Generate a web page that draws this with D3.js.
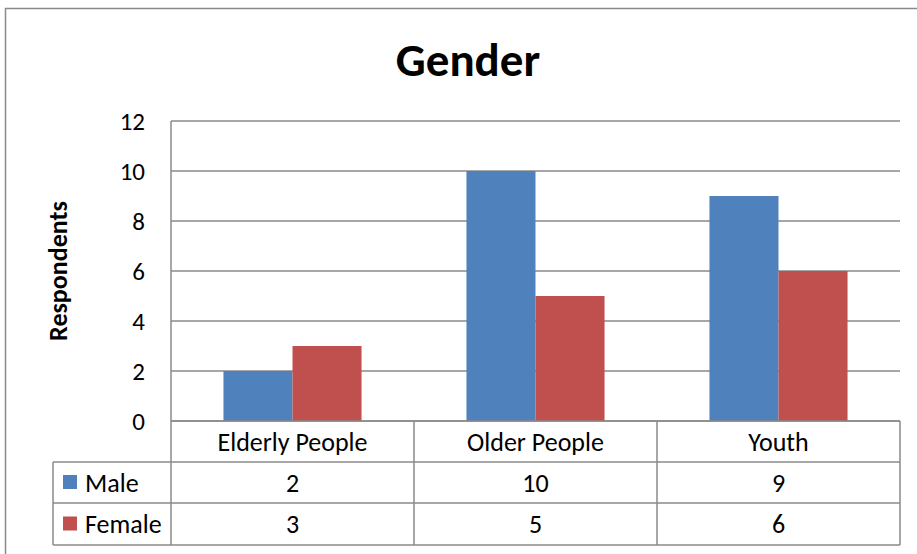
<!DOCTYPE html>
<html>
<head>
<meta charset="utf-8">
<script src="https://cdn.jsdelivr.net/npm/d3@7"></script>
<style>
  html, body { margin: 0; padding: 0; background: #fff; }
  svg { display: block; font-family: Carlito, Calibri, Lato, "Open Sans", sans-serif; }
</style>
</head>
<body>
<svg id="chart" width="917" height="554"></svg>
<script>
// Respondent counts by age group and gender
const categories = ["Elderly People", "Older People", "Youth"];
const seriesNames = ["Male", "Female"];
const maleValues = [2, 10, 9];
const femaleValues = [3, 5, 6];
const yTicks = [0, 2, 4, 6, 8, 10, 12];
const colors = ["#4F81BD", "#C0504D"];

const seriesValues = [maleValues, femaleValues];

const svg = d3.select("#chart");
const W = 917, H = 554;

svg.append("rect").attr("width", W).attr("height", H).attr("fill", "#fff");

// outer chart frame
svg.append("rect")
  .attr("x", 5.5).attr("y", 8.5)
  .attr("width", 1000).attr("height", 700)
  .attr("fill", "none").attr("stroke", "#8a8a8a").attr("stroke-width", 1.5);

const plot = { left: 171, right: 900, top: 121, bottom: 421 };
const rowH = [41, 41, 42];     // header row, Male row, Female row
const tableLeft = 53;
const labelSize = 26;

const x = d3.scaleBand().domain(categories).range([plot.left, plot.right]).padding(0);
const xs = d3.scaleBand().domain(seriesNames).range([0, x.bandwidth()])
  .paddingInner(0).paddingOuter(0.76);
const y = d3.scaleLinear().domain([0, 12]).range([plot.bottom, plot.top]);

const lineColor = "#8a8a8a";

// title
svg.append("text")
  .attr("x", 468).attr("y", 76)
  .attr("text-anchor", "middle")
  .attr("font-weight", "bold").attr("font-size", 47)
  .attr("fill", "#000")
  .text("Gender");

// gridlines
svg.append("g").selectAll("line").data(yTicks).join("line")
  .attr("x1", plot.left).attr("x2", plot.right)
  .attr("y1", d => y(d)).attr("y2", d => y(d))
  .attr("stroke", lineColor).attr("stroke-width", 1.5);

// y axis labels
const yAxis = d3.axisLeft(y).tickValues(yTicks).tickSize(0).tickPadding(26);
const gy = svg.append("g").attr("transform", `translate(${plot.left},0)`).call(yAxis);
gy.select(".domain").remove();
gy.selectAll("text")
  .attr("font-size", 25).attr("fill", "#000")
  .attr("font-family", "Carlito, Calibri, Lato, sans-serif");

// y axis title
svg.append("text")
  .attr("transform", `translate(67,271) rotate(-90)`)
  .attr("text-anchor", "middle")
  .attr("font-weight", "bold").attr("font-size", 26)
  .attr("fill", "#000")
  .text("Respondents");

// bars
const groups = svg.append("g").selectAll("g").data(categories).join("g")
  .attr("transform", d => `translate(${x(d)},0)`);
groups.selectAll("rect")
  .data((c, i) => seriesNames.map((s, k) => ({ s, k, v: seriesValues[k][i] })))
  .join("rect")
  .attr("x", d => xs(d.s))
  .attr("width", xs.bandwidth())
  .attr("y", d => y(d.v))
  .attr("height", d => y(0) - y(d.v))
  .attr("fill", d => colors[d.k]);

// vertical axis line
svg.append("line")
  .attr("x1", plot.left).attr("x2", plot.left)
  .attr("y1", plot.top).attr("y2", plot.bottom)
  .attr("stroke", lineColor).attr("stroke-width", 1.5);

// data table
const rowsY = [plot.bottom];
rowH.forEach(h => rowsY.push(rowsY[rowsY.length - 1] + h));
const table = svg.append("g");

// horizontal rules
rowsY.forEach((ry, i) => {
  table.append("line")
    .attr("x1", i === 0 ? plot.left : tableLeft).attr("x2", plot.right)
    .attr("y1", ry).attr("y2", ry)
    .attr("stroke", lineColor).attr("stroke-width", 1.5);
});
// vertical rules
const colEdges = [plot.left].concat(categories.map(c => x(c) + x.bandwidth()));
colEdges.forEach(cx => {
  table.append("line")
    .attr("x1", cx).attr("x2", cx)
    .attr("y1", rowsY[0]).attr("y2", rowsY[3])
    .attr("stroke", lineColor).attr("stroke-width", 1.5);
});
table.append("line")
  .attr("x1", tableLeft).attr("x2", tableLeft)
  .attr("y1", rowsY[1]).attr("y2", rowsY[3])
  .attr("stroke", lineColor).attr("stroke-width", 1.5);

// header labels
table.selectAll("text.cat").data(categories).join("text")
  .attr("class", "cat")
  .attr("x", d => x(d) + x.bandwidth() / 2)
  .attr("y", (rowsY[0] + rowsY[1]) / 2)
  .attr("dy", "0.35em")
  .attr("text-anchor", "middle")
  .attr("font-size", labelSize).attr("fill", "#000")
  .text(d => d);

// series rows
seriesNames.forEach((s, k) => {
  const cy = (rowsY[k + 1] + rowsY[k + 2]) / 2;
  table.append("rect")
    .attr("x", 63).attr("y", cy - 7.5)
    .attr("width", 14).attr("height", 14)
    .attr("fill", colors[k]);
  table.append("text")
    .attr("x", 85).attr("y", cy).attr("dy", "0.35em")
    .attr("font-size", labelSize).attr("fill", "#000")
    .text(s);
  categories.forEach((c, i) => {
    table.append("text")
      .attr("x", x(c) + x.bandwidth() / 2)
      .attr("y", cy).attr("dy", "0.35em")
      .attr("text-anchor", "middle")
      .attr("font-size", labelSize).attr("fill", "#000")
      .text(seriesValues[k][i]);
  });
});
</script>
</body>
</html>
